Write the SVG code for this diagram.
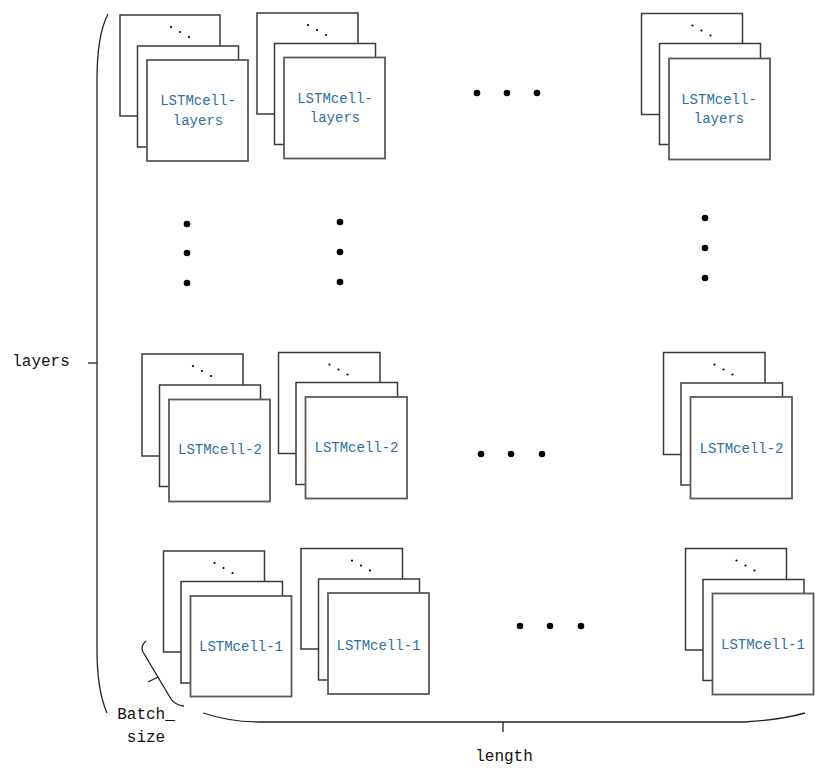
<svg xmlns="http://www.w3.org/2000/svg" width="815" height="774" viewBox="0 0 815 774">
<style>
.b{fill:#fff;stroke:#3a3a3a;stroke-width:1.5}
.f{fill:#fff;stroke:#5a5a5a;stroke-width:1.8}
.c{font-family:"Liberation Mono",monospace;font-size:14px;fill:#2a6fa6;text-anchor:middle}
.l{font-family:"Liberation Mono",monospace;font-size:16px;fill:#111;text-anchor:middle}
.br{fill:none;stroke:#222;stroke-width:1.3}
.d{fill:#000}
</style>
<defs>
<g id="sd"><circle cx="51" cy="12" r="1.1"/><circle cx="60" cy="17" r="1.1"/><circle cx="69" cy="22" r="1.1"/></g>
</defs>
<rect width="815" height="774" fill="#fff"/>
<!-- row 1 -->
<g id="r1c1"><rect class="b" x="120" y="15" width="100" height="101"/><use href="#sd" x="120" y="15"/><rect class="b" x="137.5" y="46" width="101" height="101"/><rect class="f" x="147" y="60" width="101" height="101"/><text class="c" x="198" y="105">LSTMcell-</text><text class="c" x="198" y="125">layers</text></g>
<g id="r1c2"><rect class="b" x="257" y="13" width="101" height="101"/><use href="#sd" x="257" y="13"/><rect class="b" x="274.5" y="43.5" width="101" height="101"/><rect class="f" x="284" y="57.5" width="101" height="101"/><text class="c" x="335" y="103">LSTMcell-</text><text class="c" x="335" y="122">layers</text></g>
<g id="r1c3"><rect class="b" x="641.5" y="13.5" width="101" height="101"/><use href="#sd" x="641.5" y="13.5"/><rect class="b" x="659.5" y="43.5" width="101" height="101"/><rect class="f" x="669" y="58.5" width="101" height="101"/><text class="c" x="719" y="104">LSTMcell-</text><text class="c" x="719" y="123">layers</text></g>
<!-- row 2 -->
<g id="r2c1"><rect class="b" x="142" y="354" width="101" height="102"/><use href="#sd" x="142" y="354"/><rect class="b" x="159.5" y="385" width="101" height="101.5"/><rect class="f" x="169" y="399.5" width="101" height="102"/><text class="c" x="220" y="453.5">LSTMcell-2</text></g>
<g id="r2c2"><rect class="b" x="278.5" y="352.5" width="101.5" height="101"/><use href="#sd" x="278.5" y="352.5"/><rect class="b" x="296" y="382.5" width="101.5" height="102"/><rect class="f" x="305.5" y="397" width="101.5" height="101.5"/><text class="c" x="356.5" y="452">LSTMcell-2</text></g>
<g id="r2c3"><rect class="b" x="663.5" y="352.5" width="101.5" height="102"/><use href="#sd" x="663.5" y="352.5"/><rect class="b" x="681" y="383" width="101.5" height="102"/><rect class="f" x="690.5" y="397" width="101.5" height="101.5"/><text class="c" x="741.5" y="453">LSTMcell-2</text></g>
<!-- row 3 -->
<g id="r3c1"><rect class="b" x="163.5" y="551" width="101" height="101"/><use href="#sd" x="163.5" y="551"/><rect class="b" x="181" y="581.5" width="101.5" height="101.5"/><rect class="f" x="190.5" y="596" width="101" height="100.5"/><text class="c" x="241" y="651">LSTMcell-1</text></g>
<g id="r3c2"><rect class="b" x="301" y="548.5" width="101.5" height="100.5"/><use href="#sd" x="301" y="548.5"/><rect class="b" x="318.5" y="579" width="101" height="101"/><rect class="f" x="328" y="593" width="101" height="101"/><text class="c" x="378.5" y="649.5">LSTMcell-1</text></g>
<g id="r3c3"><rect class="b" x="685.5" y="548.5" width="101" height="101.5"/><use href="#sd" x="685.5" y="548.5"/><rect class="b" x="703" y="579.5" width="101" height="101"/><rect class="f" x="712.5" y="593.5" width="101" height="101"/><text class="c" x="763" y="649">LSTMcell-1</text></g>
<!-- ellipsis dots -->
<g id="dots" class="d">
<circle cx="477" cy="93" r="3.3"/><circle cx="507" cy="93" r="3.3"/><circle cx="537" cy="93" r="3.3"/>
<circle cx="481" cy="454" r="3.3"/><circle cx="511" cy="454" r="3.3"/><circle cx="542" cy="454" r="3.3"/>
<circle cx="520" cy="626" r="3.3"/><circle cx="550" cy="626" r="3.3"/><circle cx="581" cy="626" r="3.3"/>
<circle cx="187" cy="224" r="3.3"/><circle cx="187" cy="253" r="3.3"/><circle cx="187" cy="283" r="3.3"/>
<circle cx="340" cy="222" r="3.3"/><circle cx="340" cy="252" r="3.3"/><circle cx="340" cy="282" r="3.3"/>
<circle cx="705" cy="218" r="3.3"/><circle cx="705" cy="248" r="3.3"/><circle cx="705" cy="278" r="3.3"/>
</g>
<!-- braces -->
<g id="braces">
<path class="br" d="M108,14 Q97,35 97,80 L97,650 Q97,690 107,713"/>
<path class="br" d="M88,363 L97,363"/>
<path class="br" d="M203,713 Q230,722 260,722 L745,722 Q780,720 805,713"/>
<path class="br" d="M503,722 L503,732"/>
<path class="br" d="M146,641 Q140,646 143,652 L171,699 Q175,705 184,706"/>
<path class="br" d="M148,682 L158,677"/>
</g>
<g id="labels">
<text class="l" x="41" y="366">layers</text>
<text class="l" x="146" y="719">Batch_</text>
<text class="l" x="146" y="742">size</text>
<text class="l" x="504" y="761">length</text>
</g>
</svg>
